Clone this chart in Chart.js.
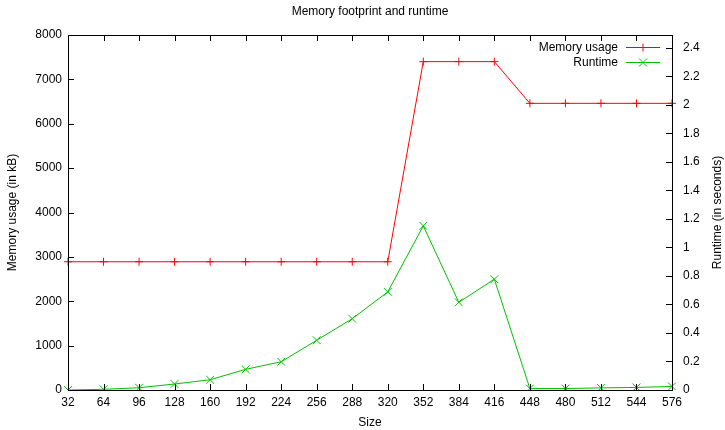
<!DOCTYPE html>
<html>
<head>
<meta charset="utf-8">
<script src="https://cdn.jsdelivr.net/npm/chart.js@4/dist/chart.umd.min.js"></script>
<style>
  html, body { margin: 0; padding: 0; background: #fff; }
  #wrap { width: 725px; height: 430px; }
</style>
</head>
<body>
<div id="wrap"><canvas id="chart" width="725" height="430"></canvas></div>
<script>
const sizes = [32, 64, 96, 128, 160, 192, 224, 256, 288, 320, 352, 384, 416, 448, 480, 512, 544, 576];
const memoryKB = [2890, 2890, 2890, 2890, 2890, 2890, 2890, 2890, 2890, 2890, 7400, 7400, 7400, 6460, 6460, 6460, 6460, 6460];
const runtimeSec = [0, 0.005, 0.016, 0.042, 0.072, 0.145, 0.198, 0.349, 0.5, 0.688, 1.151, 0.615, 0.777, 0.01, 0.01, 0.015, 0.018, 0.025];
const memTicks = [0, 1000, 2000, 3000, 4000, 5000, 6000, 7000, 8000];
const runTicks = [0, 0.2, 0.4, 0.6, 0.8, 1, 1.2, 1.4, 1.6, 1.8, 2, 2.2, 2.4];

const RED = '#ff0000';
const GREEN = '#00c000';
const FONT = '"Liberation Sans", Arial, sans-serif';

Chart.defaults.font.family = FONT;
Chart.defaults.font.size = 12;
Chart.defaults.color = '#000';

// gnuplot style frame: border, inward ticks, titles and legend inside the plot
const frame = {
  id: 'frame',
  afterDatasetsDraw(chart) {
    const { ctx, chartArea: a, scales } = chart;
    const t = 6;
    ctx.save();
    ctx.strokeStyle = '#000';
    ctx.lineWidth = 1;
    ctx.beginPath();
    scales.x.ticks.forEach((_, i) => {
      const x = Math.round(scales.x.getPixelForTick(i)) + 0.5;
      ctx.moveTo(x, a.bottom); ctx.lineTo(x, a.bottom - t);
      ctx.moveTo(x, a.top); ctx.lineTo(x, a.top + t);
    });
    scales.y.ticks.forEach(tk => {
      const y = Math.round(scales.y.getPixelForValue(tk.value)) + 0.5;
      ctx.moveTo(a.left, y); ctx.lineTo(a.left + t, y);
    });
    scales.y2.ticks.forEach(tk => {
      const y = Math.round(scales.y2.getPixelForValue(tk.value)) + 0.5;
      ctx.moveTo(a.right, y); ctx.lineTo(a.right - t, y);
    });
    ctx.stroke();
    ctx.strokeRect(Math.round(a.left) + 0.5, Math.round(a.top) + 0.5,
      Math.round(a.right - a.left), Math.round(a.bottom - a.top));

    ctx.fillStyle = '#000';
    ctx.font = '12px ' + FONT;
    ctx.textAlign = 'center';
    ctx.textBaseline = 'middle';
    ctx.fillText('Memory footprint and runtime', 370, 12);
    ctx.fillText('Size', 370, 423);

    ctx.save();
    ctx.translate(718, (a.top + a.bottom) / 2);
    ctx.rotate(-Math.PI / 2);
    ctx.fillText('Runtime (in seconds)', 0, 0);
    ctx.restore();

    // legend
    const rows = [47, 62];
    chart.data.datasets.forEach((ds, i) => {
      const y = rows[i] + 0.5;
      ctx.textAlign = 'right';
      ctx.fillStyle = '#000';
      ctx.fillText(ds.label, 618, y);
      ctx.strokeStyle = ds.borderColor;
      ctx.beginPath();
      ctx.moveTo(626, y); ctx.lineTo(660, y);
      ctx.stroke();
      const cx = 643;
      ctx.beginPath();
      if (ds.pointStyle === 'cross') {
        ctx.moveTo(cx - 4, y); ctx.lineTo(cx + 4, y);
        ctx.moveTo(cx, y - 4); ctx.lineTo(cx, y + 4);
      } else {
        ctx.moveTo(cx - 4, y - 4); ctx.lineTo(cx + 4, y + 4);
        ctx.moveTo(cx - 4, y + 4); ctx.lineTo(cx + 4, y - 4);
      }
      ctx.stroke();
    });
    ctx.restore();
  }
};

new Chart(document.getElementById('chart'), {
  type: 'line',
  data: {
    labels: sizes.map(String),
    datasets: [
      {
        label: 'Memory usage',
        data: memoryKB,
        yAxisID: 'y',
        borderColor: RED,
        backgroundColor: RED,
        borderWidth: 1,
        pointStyle: 'cross',
        pointRadius: 4,
        pointBorderWidth: 1,
        tension: 0
      },
      {
        label: 'Runtime',
        data: runtimeSec,
        yAxisID: 'y2',
        borderColor: GREEN,
        backgroundColor: GREEN,
        borderWidth: 1,
        pointStyle: 'crossRot',
        pointRadius: 5.5,
        pointBorderWidth: 1,
        tension: 0
      }
    ]
  },
  options: {
    responsive: false,
    animation: false,
    layout: { padding: { top: 35, left: 0, right: 0, bottom: 0 } },
    plugins: {
      legend: { display: false },
      title: { display: false },
      tooltip: { enabled: false }
    },
    scales: {
      x: {
        offset: false,
        grid: { display: false, drawTicks: false },
        border: { display: false },
        ticks: { padding: 5, maxRotation: 0, autoSkip: false },
        afterFit(s) { s.height = 40; }
      },
      y: {
        position: 'left',
        min: 0, max: 8000,
        grid: { display: false, drawTicks: false },
        border: { display: false },
        ticks: { padding: 6, callback: v => String(v) },
        afterBuildTicks(s) { s.ticks = memTicks.map(v => ({ value: v })); },
        title: { display: true, text: 'Memory usage (in kB)', padding: { top: 5, bottom: 0 } },
        afterFit(s) { s.width = 68; }
      },
      y2: {
        position: 'right',
        min: 0, max: 2.49,
        grid: { display: false, drawTicks: false },
        border: { display: false },
        ticks: { padding: 11, callback: v => String(+v.toFixed(2)) },
        afterBuildTicks(s) { s.ticks = runTicks.map(v => ({ value: v })); },
        afterFit(s) { s.width = 53; }
      }
    }
  },
  plugins: [frame]
});
</script>
</body>
</html>
